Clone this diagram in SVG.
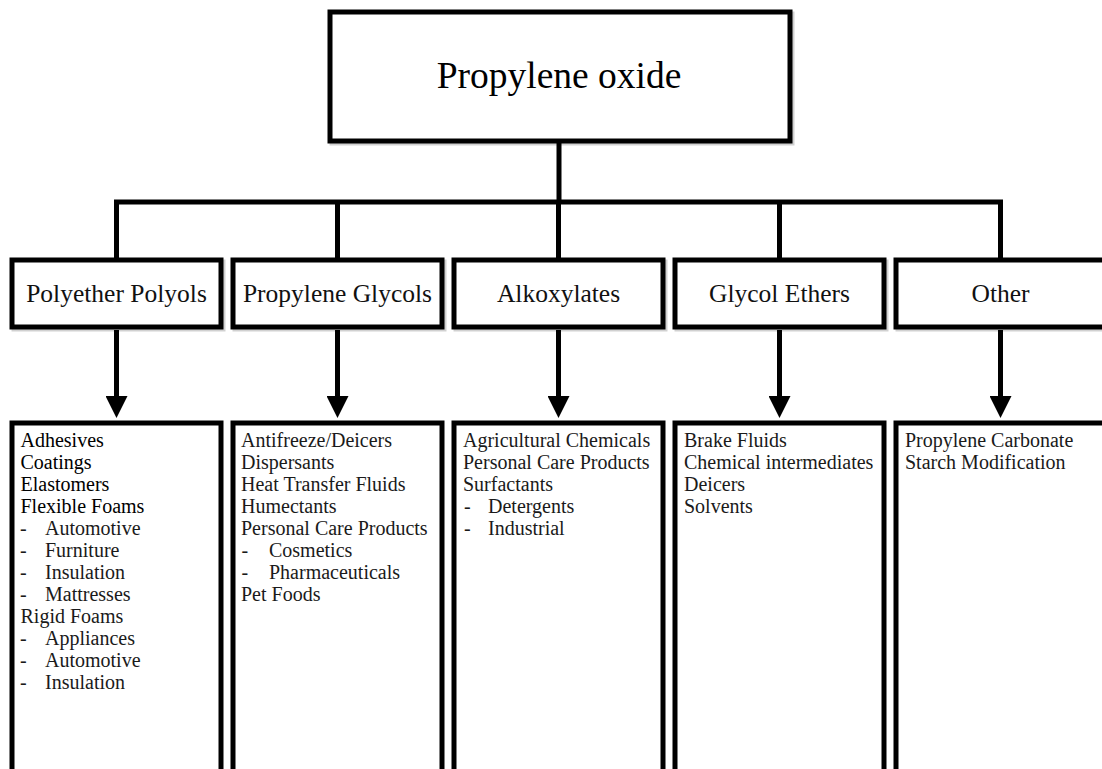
<svg xmlns="http://www.w3.org/2000/svg" width="1102" height="769" viewBox="0 0 1102 769">
<style>
  .box { fill: #fff; stroke: #000; stroke-width: 5; }
  .shadow { fill: none; stroke: #000; stroke-opacity: 0.18; stroke-width: 5; }
  .conn { fill: none; stroke: #000; stroke-width: 5; }
  .title { font-family: "Liberation Serif", "Times New Roman", serif; font-size: 37.5px; fill: #000; text-anchor: middle; }
  .cat { font-family: "Liberation Serif", "Times New Roman", serif; font-size: 25.5px; fill: #111; text-anchor: middle; }
  .item { font-family: "Liberation Serif", "Times New Roman", serif; font-size: 20px; fill: #1a1a1a; }
  .dark { fill: #000; }
</style>
<defs>
  <marker id="arrow" markerUnits="userSpaceOnUse" markerWidth="22" markerHeight="22" refX="9" refY="11" orient="auto">
    <path d="M0,0 L22,11 L0,22 Z" fill="#000"/>
  </marker>
</defs>
<rect width="1102" height="769" fill="#fff"/>

<g id="connectors">
  <line class="conn" x1="559" y1="141" x2="559" y2="202"/>
  <line class="conn" x1="114" y1="202" x2="1003" y2="202"/>
  <line class="conn" x1="116.5" y1="202" x2="116.5" y2="260"/>
  <line class="conn" x1="337.5" y1="202" x2="337.5" y2="260"/>
  <line class="conn" x1="558.5" y1="202" x2="558.5" y2="260"/>
  <line class="conn" x1="779.5" y1="202" x2="779.5" y2="260"/>
  <line class="conn" x1="1000.5" y1="202" x2="1000.5" y2="260"/>
  <line class="conn" x1="116.5" y1="330" x2="116.5" y2="405" marker-end="url(#arrow)"/>
  <line class="conn" x1="337.5" y1="330" x2="337.5" y2="405" marker-end="url(#arrow)"/>
  <line class="conn" x1="558.5" y1="330" x2="558.5" y2="405" marker-end="url(#arrow)"/>
  <line class="conn" x1="779.5" y1="330" x2="779.5" y2="405" marker-end="url(#arrow)"/>
  <line class="conn" x1="1000.5" y1="330" x2="1000.5" y2="405" marker-end="url(#arrow)"/>
</g>

<g id="propylene-oxide">
  <rect class="shadow" x="332" y="14" width="460" height="129"/>
  <rect class="box" x="330" y="12" width="460" height="129"/>
  <text class="title" x="559" y="88">Propylene oxide</text>
</g>

<g id="polyether-polyols">
  <rect class="shadow" x="14" y="262" width="209" height="67"/>
  <rect class="box" x="12" y="260" width="209" height="67"/>
  <text class="cat" x="116.5" y="302">Polyether Polyols</text>
</g>
<g id="propylene-glycols">
  <rect class="shadow" x="235" y="262" width="209" height="67"/>
  <rect class="box" x="233" y="260" width="209" height="67"/>
  <text class="cat" x="337.5" y="302">Propylene Glycols</text>
</g>
<g id="alkoxylates">
  <rect class="shadow" x="456" y="262" width="209" height="67"/>
  <rect class="box" x="454" y="260" width="209" height="67"/>
  <text class="cat" x="558.5" y="302">Alkoxylates</text>
</g>
<g id="glycol-ethers">
  <rect class="shadow" x="677" y="262" width="209" height="67"/>
  <rect class="box" x="675" y="260" width="209" height="67"/>
  <text class="cat" x="779.5" y="302">Glycol Ethers</text>
</g>
<g id="other">
  <rect class="shadow" x="898" y="262" width="209" height="67"/>
  <rect class="box" x="896" y="260" width="209" height="67"/>
  <text class="cat" x="1000.5" y="302">Other</text>
</g>

<g id="polyols-uses">
  <rect class="box" x="12" y="423" width="209" height="360"/>
  <text class="item dark" x="20.5" y="447">Adhesives</text>
  <text class="item dark" x="20.5" y="469">Coatings</text>
  <text class="item dark" x="20.5" y="491">Elastomers</text>
  <text class="item dark" x="20.5" y="513">Flexible Foams</text>
  <text class="item" x="20" y="535">-</text><text class="item" x="45" y="535">Automotive</text>
  <text class="item" x="20" y="557">-</text><text class="item" x="45" y="557">Furniture</text>
  <text class="item" x="20" y="579">-</text><text class="item" x="45" y="579">Insulation</text>
  <text class="item" x="20" y="601">-</text><text class="item" x="45" y="601">Mattresses</text>
  <text class="item" x="20.5" y="623">Rigid Foams</text>
  <text class="item" x="20" y="645">-</text><text class="item" x="45" y="645">Appliances</text>
  <text class="item" x="20" y="667">-</text><text class="item" x="45" y="667">Automotive</text>
  <text class="item" x="20" y="689">-</text><text class="item" x="45" y="689">Insulation</text>
</g>

<g id="glycols-uses">
  <rect class="box" x="233" y="423" width="209" height="360"/>
  <text class="item" x="241" y="447">Antifreeze/Deicers</text>
  <text class="item" x="241" y="469">Dispersants</text>
  <text class="item" x="241" y="491">Heat Transfer Fluids</text>
  <text class="item" x="241" y="513">Humectants</text>
  <text class="item" x="241" y="535">Personal Care Products</text>
  <text class="item" x="241.5" y="557">-</text><text class="item" x="269" y="557">Cosmetics</text>
  <text class="item" x="241.5" y="579">-</text><text class="item" x="269" y="579">Pharmaceuticals</text>
  <text class="item" x="241" y="601">Pet Foods</text>
</g>

<g id="alkoxylates-uses">
  <rect class="box" x="454" y="423" width="209" height="360"/>
  <text class="item" x="463" y="447">Agricultural Chemicals</text>
  <text class="item" x="463" y="469">Personal Care Products</text>
  <text class="item" x="463" y="491">Surfactants</text>
  <text class="item" x="464" y="513">-</text><text class="item" x="488" y="513">Detergents</text>
  <text class="item" x="464" y="535">-</text><text class="item" x="488" y="535">Industrial</text>
</g>

<g id="glycol-ethers-uses">
  <rect class="box" x="675" y="423" width="209" height="360"/>
  <text class="item" x="684" y="447">Brake Fluids</text>
  <text class="item" x="684" y="469">Chemical intermediates</text>
  <text class="item" x="684" y="491">Deicers</text>
  <text class="item" x="684" y="513">Solvents</text>
</g>

<g id="other-uses">
  <rect class="box" x="896" y="423" width="209" height="360"/>
  <text class="item" x="905" y="447">Propylene Carbonate</text>
  <text class="item" x="905" y="469">Starch Modification</text>
</g>
</svg>
